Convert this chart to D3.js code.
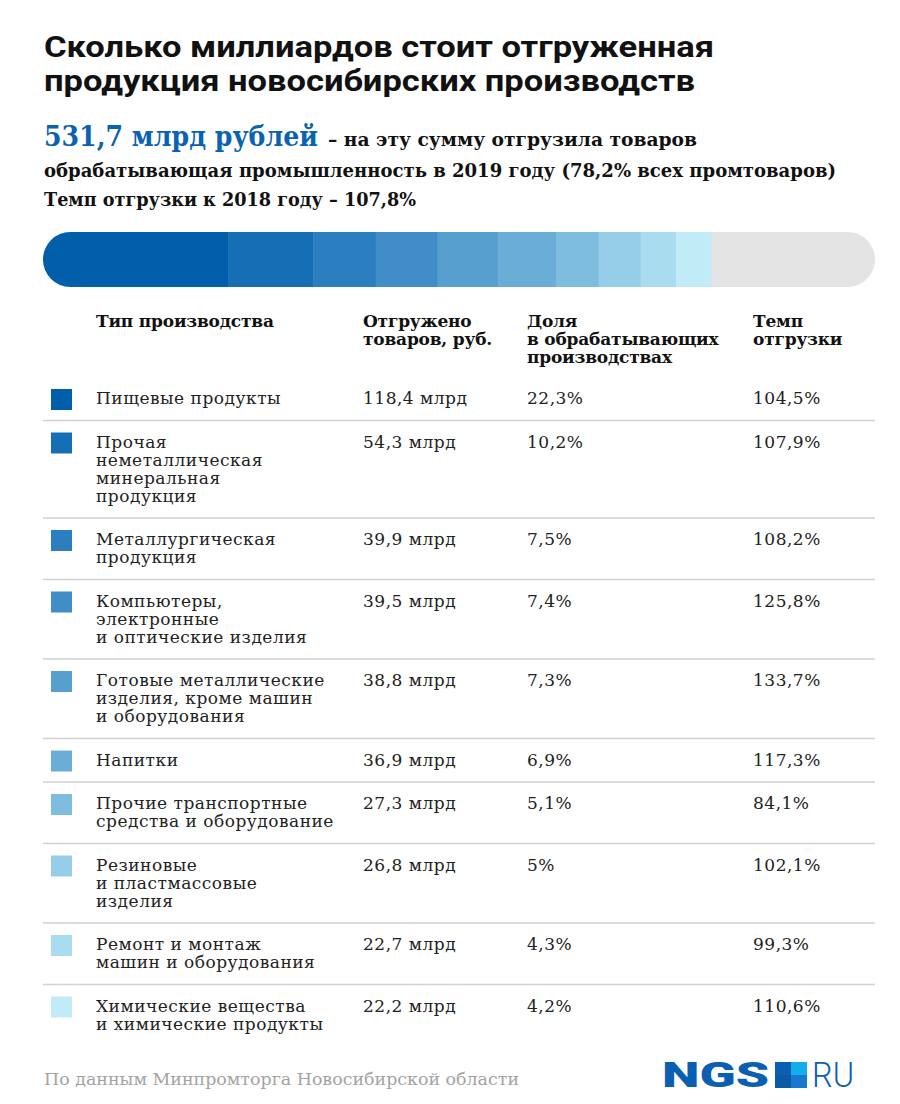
<!DOCTYPE html>
<html><head><meta charset="utf-8">
<script src="https://cdn.jsdelivr.net/npm/d3@7"></script>
<style>
html,body{margin:0;padding:0;background:#fff;}
svg{display:block;}
</style></head>
<body>
<script>
// ---------- data ----------
const totalManufacturing = 531.7;
const categories = [
  ["Пищевые продукты"],
  ["Прочая", "неметаллическая", "минеральная", "продукция"],
  ["Металлургическая", "продукция"],
  ["Компьютеры,", "электронные", "и оптические изделия"],
  ["Готовые металлические", "изделия, кроме машин", "и оборудования"],
  ["Напитки"],
  ["Прочие транспортные", "средства и оборудование"],
  ["Резиновые", "и пластмассовые", "изделия"],
  ["Ремонт и монтаж", "машин и оборудования"],
  ["Химические вещества", "и химические продукты"]
];
const shipped = [118.4, 54.3, 39.9, 39.5, 38.8, 36.9, 27.3, 26.8, 22.7, 22.2];
const share = [22.3, 10.2, 7.5, 7.4, 7.3, 6.9, 5.1, 5.0, 4.3, 4.2];
const tempo = [104.5, 107.9, 108.2, 125.8, 133.7, 117.3, 84.1, 102.1, 99.3, 110.6];
const colors = ["#005eaa", "#166fb5", "#2b7fc0", "#418dc7", "#569fcf", "#6aaed7", "#7fbddf", "#96cde8", "#aadcef", "#c0ebf7"];
const restColor = "#e4e4e4";
const headers = [
  ["Тип производства"],
  ["Отгружено", "товаров, руб."],
  ["Доля", "в обрабатывающих", "производствах"],
  ["Темп", "отгрузки"]
];

// ---------- helpers ----------
const fmt = v => (Number.isInteger(v) ? String(v) : v.toFixed(1)).replace(".", ",");
const W = 900, H = 1104;
const svg = d3.select("body").append("svg").attr("width", W).attr("height", H);
const serif = "'DejaVu Serif', serif";
const sans = "Roboto, 'Open Sans', sans-serif";

// ---------- title ----------
const title = svg.append("g");
title.append("text").attr("x", 44).attr("y", 57)
  .attr("font-family", sans).attr("font-weight", 700).attr("font-size", 29)
  .attr("textLength", 670).attr("lengthAdjust", "spacingAndGlyphs").attr("fill", "#111")
  .text("Сколько миллиардов стоит отгруженная");
title.append("text").attr("x", 44).attr("y", 91)
  .attr("font-family", sans).attr("font-weight", 700).attr("font-size", 29)
  .attr("textLength", 651).attr("lengthAdjust", "spacingAndGlyphs").attr("fill", "#111")
  .text("продукция новосибирских производств");

// subtitle
svg.append("text").attr("x", 44).attr("y", 146)
  .attr("font-family", serif).attr("font-weight", 700).attr("font-size", 28)
  .attr("textLength", 274).attr("lengthAdjust", "spacingAndGlyphs").attr("fill", "#0a63b0")
  .text(fmt(totalManufacturing) + " млрд рублей");
svg.append("text").attr("x", 328).attr("y", 146)
  .attr("font-family", serif).attr("font-weight", 700).attr("font-size", 19)
  .attr("textLength", 369).attr("lengthAdjust", "spacingAndGlyphs").attr("fill", "#111")
  .text("– на эту сумму отгрузила товаров");
svg.append("text").attr("x", 44).attr("y", 177)
  .attr("font-family", serif).attr("font-weight", 700).attr("font-size", 19)
  .attr("textLength", 792).attr("lengthAdjust", "spacingAndGlyphs").attr("fill", "#111")
  .text("обрабатывающая промышленность в 2019 году (78,2% всех промтоваров)");
svg.append("text").attr("x", 44).attr("y", 206)
  .attr("font-family", serif).attr("font-weight", 700).attr("font-size", 19)
  .attr("textLength", 372).attr("lengthAdjust", "spacingAndGlyphs").attr("fill", "#111")
  .text("Темп отгрузки к 2018 году – 107,8%");

// ---------- stacked bar ----------
const x = d3.scaleLinear().domain([0, totalManufacturing]).range([43, 875]);
const barY = 232, barH = 55;
const defs = svg.append("defs");
defs.append("clipPath").attr("id", "barclip").append("rect")
  .attr("x", x(0)).attr("y", barY).attr("width", x(totalManufacturing) - x(0)).attr("height", barH)
  .attr("rx", barH / 2).attr("ry", barH / 2);
const cum = d3.cumsum(shipped);
const segs = shipped.map((v, i) => ({ x0: cum[i] - v, x1: cum[i], c: colors[i] }));
const barG = svg.append("g").attr("clip-path", "url(#barclip)");
barG.append("rect").attr("x", x(0)).attr("y", barY)
  .attr("width", x(totalManufacturing) - x(0)).attr("height", barH).attr("fill", restColor);
barG.selectAll("rect.seg").data(segs).join("rect").attr("class", "seg")
  .attr("x", d => x(d.x0)).attr("y", barY)
  .attr("width", d => x(d.x1) - x(d.x0) + 0.5).attr("height", barH)
  .attr("fill", d => d.c);

// ---------- table ----------
const colX = [96, 363, 527, 753];
const hdr = svg.append("g");
headers.forEach((lines, c) => {
  const t = hdr.append("text").attr("x", colX[c]).attr("y", 327)
    .attr("font-family", serif).attr("font-weight", 700).attr("font-size", 17)
    .attr("letter-spacing", -0.2).attr("fill", "#111");
  lines.forEach((l, j) => t.append("tspan").attr("x", colX[c]).attr("dy", j ? 18 : 0).text(l));
});

const lineH = 18;
const bodySize = 17, bodySpacing = 0.5;
let rowTop = 377;
const rows = categories.map((lines, i) => {
  const h = 25.5 + lineH * lines.length;
  const r = { i, lines, y0: rowTop, h };
  rowTop += h;
  return r;
});
const rowG = svg.append("g").selectAll("g").data(rows).join("g")
  .attr("transform", d => `translate(0,${d.y0})`);
rowG.append("rect").attr("x", 51).attr("y", 12).attr("width", 21).attr("height", 21)
  .attr("fill", d => colors[d.i]);
const cell = (sel, cx) => sel.append("text").attr("x", cx).attr("y", 27)
  .attr("font-family", serif).attr("font-size", bodySize).attr("letter-spacing", bodySpacing)
  .attr("fill", "#222");
const nameT = cell(rowG, colX[0]);
nameT.selectAll("tspan").data(d => d.lines).join("tspan")
  .attr("x", colX[0]).attr("dy", (d, j) => j ? lineH : 0).text(d => d);
cell(rowG, colX[1]).text(d => fmt(shipped[d.i]) + " млрд");
cell(rowG, colX[2]).text(d => fmt(share[d.i]) + "%");
cell(rowG, colX[3]).text(d => fmt(tempo[d.i]) + "%");
rowG.filter(d => d.i < rows.length - 1).append("line")
  .attr("x1", 43).attr("x2", 875).attr("y1", d => d.h).attr("y2", d => d.h)
  .attr("stroke", "#d2d2d2").attr("stroke-width", 1.5);

// ---------- footer ----------
svg.append("text").attr("x", 44).attr("y", 1085)
  .attr("font-family", serif).attr("font-size", 16).attr("fill", "#a3a3a3")
  .attr("textLength", 475).attr("lengthAdjust", "spacingAndGlyphs")
  .text("По данным Минпромторга Новосибирской области");

// logo
const logo = svg.append("g");
logo.append("text").attr("x", 662).attr("y", 1087)
  .attr("font-family", sans).attr("font-weight", 900).attr("font-size", 35)
  .attr("textLength", 107).attr("lengthAdjust", "spacingAndGlyphs").attr("fill", "#0b5fb0")
  .text("NGS");
const sq = [[775, 1062, "#0b5fb0"], [791, 1062, "#11aeea"], [775, 1075, "#0b5aa6"], [791, 1075, "#1878cf"]];
logo.selectAll("rect").data(sq).join("rect")
  .attr("x", d => d[0]).attr("y", d => d[1]).attr("width", 16).attr("height", 13).attr("fill", d => d[2]);
logo.append("text").attr("x", 812).attr("y", 1087)
  .attr("font-family", sans).attr("font-weight", 300).attr("font-size", 35)
  .attr("textLength", 42).attr("lengthAdjust", "spacingAndGlyphs").attr("fill", "#0b5fb0")
  .text("RU");
</script>
</body></html>
